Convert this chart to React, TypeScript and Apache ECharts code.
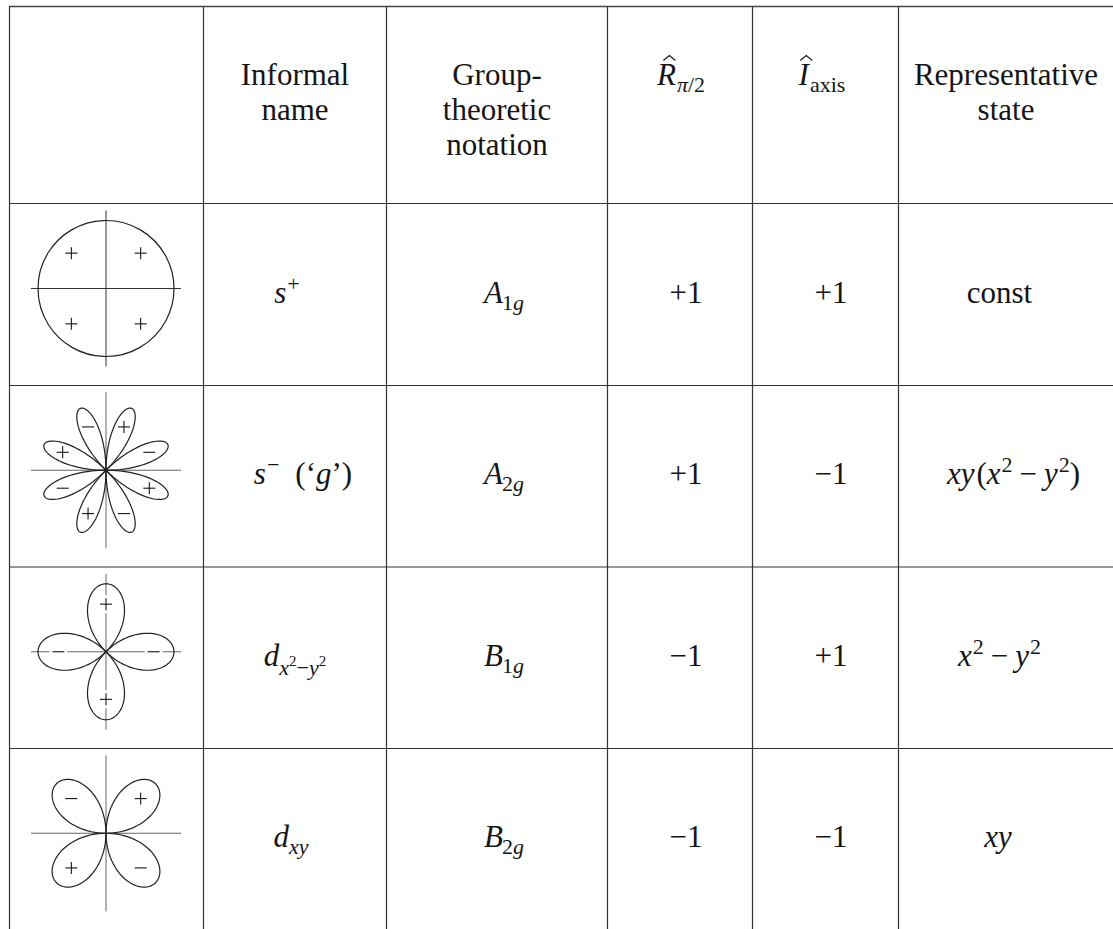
import React, { useEffect, useRef } from 'react';
import * as echarts from 'echarts';

// ---------- data ----------
type Lv = 'n' | 'sub' | 'sup' | 'lsub' | 'lsub2';
type Seg = { t: string; it?: boolean; lv?: Lv; dx?: number; hat?: boolean };

const headerInformal = ['Informal', 'name'];
const headerGroup = ['Group-', 'theoretic', 'notation'];
const headerState = ['Representative', 'state'];
const headerRotation: Seg[] = [
  { t: 'R', it: true, hat: true },
  { t: 'π', it: true, lv: 'sub', dx: 1 },
  { t: '/2', lv: 'sub' },
];
const headerInversion: Seg[] = [
  { t: 'I', it: true, hat: true },
  { t: 'axis', lv: 'sub', dx: 1 },
];

const informalNames: Seg[][] = [
  [{ t: 's', it: true }, { t: '+', lv: 'sup', dx: 1 }],
  [
    { t: 's', it: true },
    { t: '−', lv: 'sup', dx: 1 },
    { t: '(‘', dx: 16 },
    { t: 'g', it: true },
    { t: '’)' },
  ],
  [
    { t: 'd', it: true },
    { t: 'x', it: true, lv: 'lsub' },
    { t: '2', lv: 'lsub2' },
    { t: '−', lv: 'lsub' },
    { t: 'y', it: true, lv: 'lsub' },
    { t: '2', lv: 'lsub2' },
  ],
  [{ t: 'd', it: true }, { t: 'xy', it: true, lv: 'sub' }],
];

const groupLetters = ['A', 'A', 'B', 'B'];
const groupIndices = ['1', '2', '1', '2'];
const rotationEigenvalues = [1, 1, -1, -1];
const inversionEigenvalues = [1, -1, 1, -1];

const representativeStates: Seg[][] = [
  [{ t: 'const' }],
  [
    { t: 'xy', it: true },
    { t: '(', dx: 2 },
    { t: 'x', it: true },
    { t: '2', lv: 'sup', dx: 1 },
    { t: '−', dx: 7 },
    { t: 'y', it: true, dx: 7 },
    { t: '2', lv: 'sup', dx: 1 },
    { t: ')' },
  ],
  [
    { t: 'x', it: true },
    { t: '2', lv: 'sup', dx: 1 },
    { t: '−', dx: 7 },
    { t: 'y', it: true, dx: 7 },
    { t: '2', lv: 'sup', dx: 1 },
  ],
  [{ t: 'xy', it: true }],
];

// orbital sketches: lobe counts, first lobe direction (deg, counter-clockwise) and signs
const lobeCount = [0, 8, 4, 4];
const firstLobeAngle = [45, 22.5, 0, 45];
const lobeSigns = [
  ['+', '+', '+', '+'],
  ['−', '+', '−', '+', '−', '+', '−', '+'],
  ['−', '+', '−', '+'],
  ['+', '−', '+', '−'],
];

// ---------- layout ----------
const W = 1113;
const H = 929;
const colX = [9.5, 203.5, 386.5, 607.5, 752.5, 898.5];
const rowY = [6.5, 203.5, 385.5, 567, 748.5, 930];
const FAM = "'Liberation Serif','Times New Roman',serif";
const INK = '#151515';
const GRID = '#333';
const FS = 31;
const CENTRAL = 0.3375;
const LEVELS: Record<Lv, [number, number]> = {
  n: [FS, 0],
  sub: [22, 7],
  sup: [22, -12],
  lsub: [22, 9],
  lsub2: [15, 0],
};
const headerBase = [85, 120, 155];
const headerCenters = [0, 295, 497, 681, 822, 1006];
const informalCX = [287, 303, 295, 291];
const groupCX = 504;
const rotCX = 686;
const invCX = 831;
const stateCX = [999.5, 1013.5, 999.5, 998];

let measureCtx: CanvasRenderingContext2D | null = null;
function measure(t: string, font: string) {
  if (!measureCtx) measureCtx = document.createElement('canvas').getContext('2d');
  measureCtx!.font = font;
  return measureCtx!.measureText(t).width;
}

function mathEls(segs: Seg[], cx: number, base: number, out: any[]) {
  const items = segs.map((s) => {
    const [size, dy] = LEVELS[s.lv || 'n'];
    const font = `${s.it ? 'italic ' : ''}${size}px ${FAM}`;
    return { s, size, dy, font, w: measure(s.t, font) };
  });
  const total = items.reduce((a, i) => a + i.w + (i.s.dx || 0), 0);
  let x = cx - total / 2;
  for (const it of items) {
    x += it.s.dx || 0;
    out.push({
      type: 'text',
      x,
      y: base + it.dy - CENTRAL * it.size,
      silent: true,
      z: 10,
      style: {
        text: it.s.t,
        font: it.font,
        fill: INK,
        textAlign: 'left',
        textVerticalAlign: 'middle',
      },
    });
    if (it.s.hat) {
      const hx = x + it.w * 0.55 + 2;
      const hy = base - 0.662 * it.size - 5;
      out.push({
        type: 'polyline',
        silent: true,
        z: 10,
        shape: { points: [[hx - 6, hy + 1], [hx, hy - 4], [hx + 6, hy + 1]] },
        style: { stroke: INK, lineWidth: 1.1, fill: null },
      });
    }
    x += it.w;
  }
}

function line(x1: number, y1: number, x2: number, y2: number, stroke: string, lw: number, z = 1) {
  return { type: 'line', silent: true, z, shape: { x1, y1, x2, y2 }, style: { stroke, lineWidth: lw } };
}

function signEls(sign: string, x: number, y: number, out: any[], gap: boolean) {
  const a = 6;
  if (gap) {
    out.push({
      type: 'rect',
      silent: true,
      z: 3,
      shape: sign === '+' ? { x: x - a - 3, y: y - a - 3, width: 2 * a + 6, height: 2 * a + 6 } : { x: x - a - 3, y: y - 2, width: 2 * a + 6, height: 4 },
      style: { fill: '#fff', stroke: null },
    });
  }
  out.push(line(x - a, y, x + a, y, INK, 1.1, 4));
  if (sign === '+') out.push(line(x, y - a, x, y + a, INK, 1.1, 4));
}

function orbitalEls(row: number, cx: number, cy: number, out: any[]) {
  const axisColor = row === 0 ? '#333' : '#666';
  out.push(line(cx - 75, cy, cx + 75, cy, axisColor, 1, 2));
  out.push(line(cx, cy - 78, cx, cy + 78, axisColor, 1, 2));
  const n = lobeCount[row];
  const signs = lobeSigns[row];
  if (n === 0) {
    out.push({
      type: 'circle',
      silent: true,
      z: 2,
      shape: { cx, cy, r: 68 },
      style: { fill: null, stroke: '#222', lineWidth: 1.2 },
    });
    signs.forEach((s, k) => {
      const ang = ((firstLobeAngle[row] + 90 * k) * Math.PI) / 180;
      signEls(s, cx + 49 * Math.cos(ang), cy - 50 * Math.sin(ang), out, false);
    });
    return;
  }
  const m = n / 2; // rose petal order
  const L = row === 1 ? 67 : row === 3 ? 70 : 68;
  signs.forEach((s, k) => {
    const th = ((firstLobeAngle[row] + (360 / n) * k) * Math.PI) / 180;
    const pts: number[][] = [];
    const steps = 60;
    const half = Math.PI / (2 * m);
    for (let i = 0; i <= steps; i++) {
      const phi = -half + (2 * half * i) / steps;
      const r = L * Math.cos(m * phi);
      pts.push([cx + r * Math.cos(th + phi), cy - r * Math.sin(th + phi)]);
    }
    out.push({
      type: 'polyline',
      silent: true,
      z: 2,
      shape: { points: pts },
      style: { fill: null, stroke: '#222', lineWidth: 1.2 },
    });
    const d = 0.7 * L;
    signEls(s, cx + d * Math.cos(th), cy - d * Math.sin(th), out, row === 2);
  });
}

function buildElements() {
  const out: any[] = [];
  out.push({ type: 'rect', silent: true, z: 0, shape: { x: 0, y: 0, width: W, height: H }, style: { fill: '#fff' } });
  // grid
  out.push(line(colX[0] - 0.5, rowY[0], W, rowY[0], '#444', 1.6));
  for (let r = 1; r < rowY.length - 1; r++) out.push(line(colX[0], rowY[r], W, rowY[r], GRID, 1.2));
  for (const x of colX) out.push(line(x, rowY[0], x, H, GRID, 1.2));

  // header
  const hx = headerCenters;
  const plainFont = `${FS}px ${FAM}`;
  const headerLines: [string[], number][] = [
    [headerInformal, hx[1]],
    [headerGroup, hx[2]],
    [headerState, hx[5]],
  ];
  headerLines.forEach(([lines, cx]) => {
    lines.forEach((t, i) => mathEls([{ t }], cx, headerBase[i], out));
  });
  void plainFont;
  mathEls(headerRotation, hx[3], headerBase[0], out);
  mathEls(headerInversion, hx[4], headerBase[0], out);

  // body rows
  for (let r = 0; r < 4; r++) {
    const mid = (rowY[r + 1] + rowY[r + 2]) / 2;
    const base = mid + 8;
    orbitalEls(r, 106, mid - 6, out);
    mathEls(informalNames[r], informalCX[r], base, out);
    mathEls(
      [
        { t: groupLetters[r], it: true },
        { t: groupIndices[r], lv: 'sub', dx: -1 },
        { t: 'g', it: true, lv: 'sub' },
      ],
      groupCX,
      base,
      out
    );
    const fmt = (v: number) => (v > 0 ? '+' : '−') + Math.abs(v);
    mathEls([{ t: fmt(rotationEigenvalues[r]) }], rotCX, base, out);
    mathEls([{ t: fmt(inversionEigenvalues[r]) }], invCX, base, out);
    mathEls(representativeStates[r], stateCX[r], base, out);
  }
  return out;
}

export default function App() {
  const ref = useRef<HTMLDivElement>(null);
  useEffect(() => {
    const chart = echarts.init(ref.current!, null, { renderer: 'svg' });
    chart.setOption({ animation: false, graphic: { elements: buildElements() } });
    return () => chart.dispose();
  }, []);
  return (
    <div
      ref={ref}
      style={{ position: 'absolute', left: 0, top: 0, width: W, height: H, background: '#fff' }}
    />
  );
}
